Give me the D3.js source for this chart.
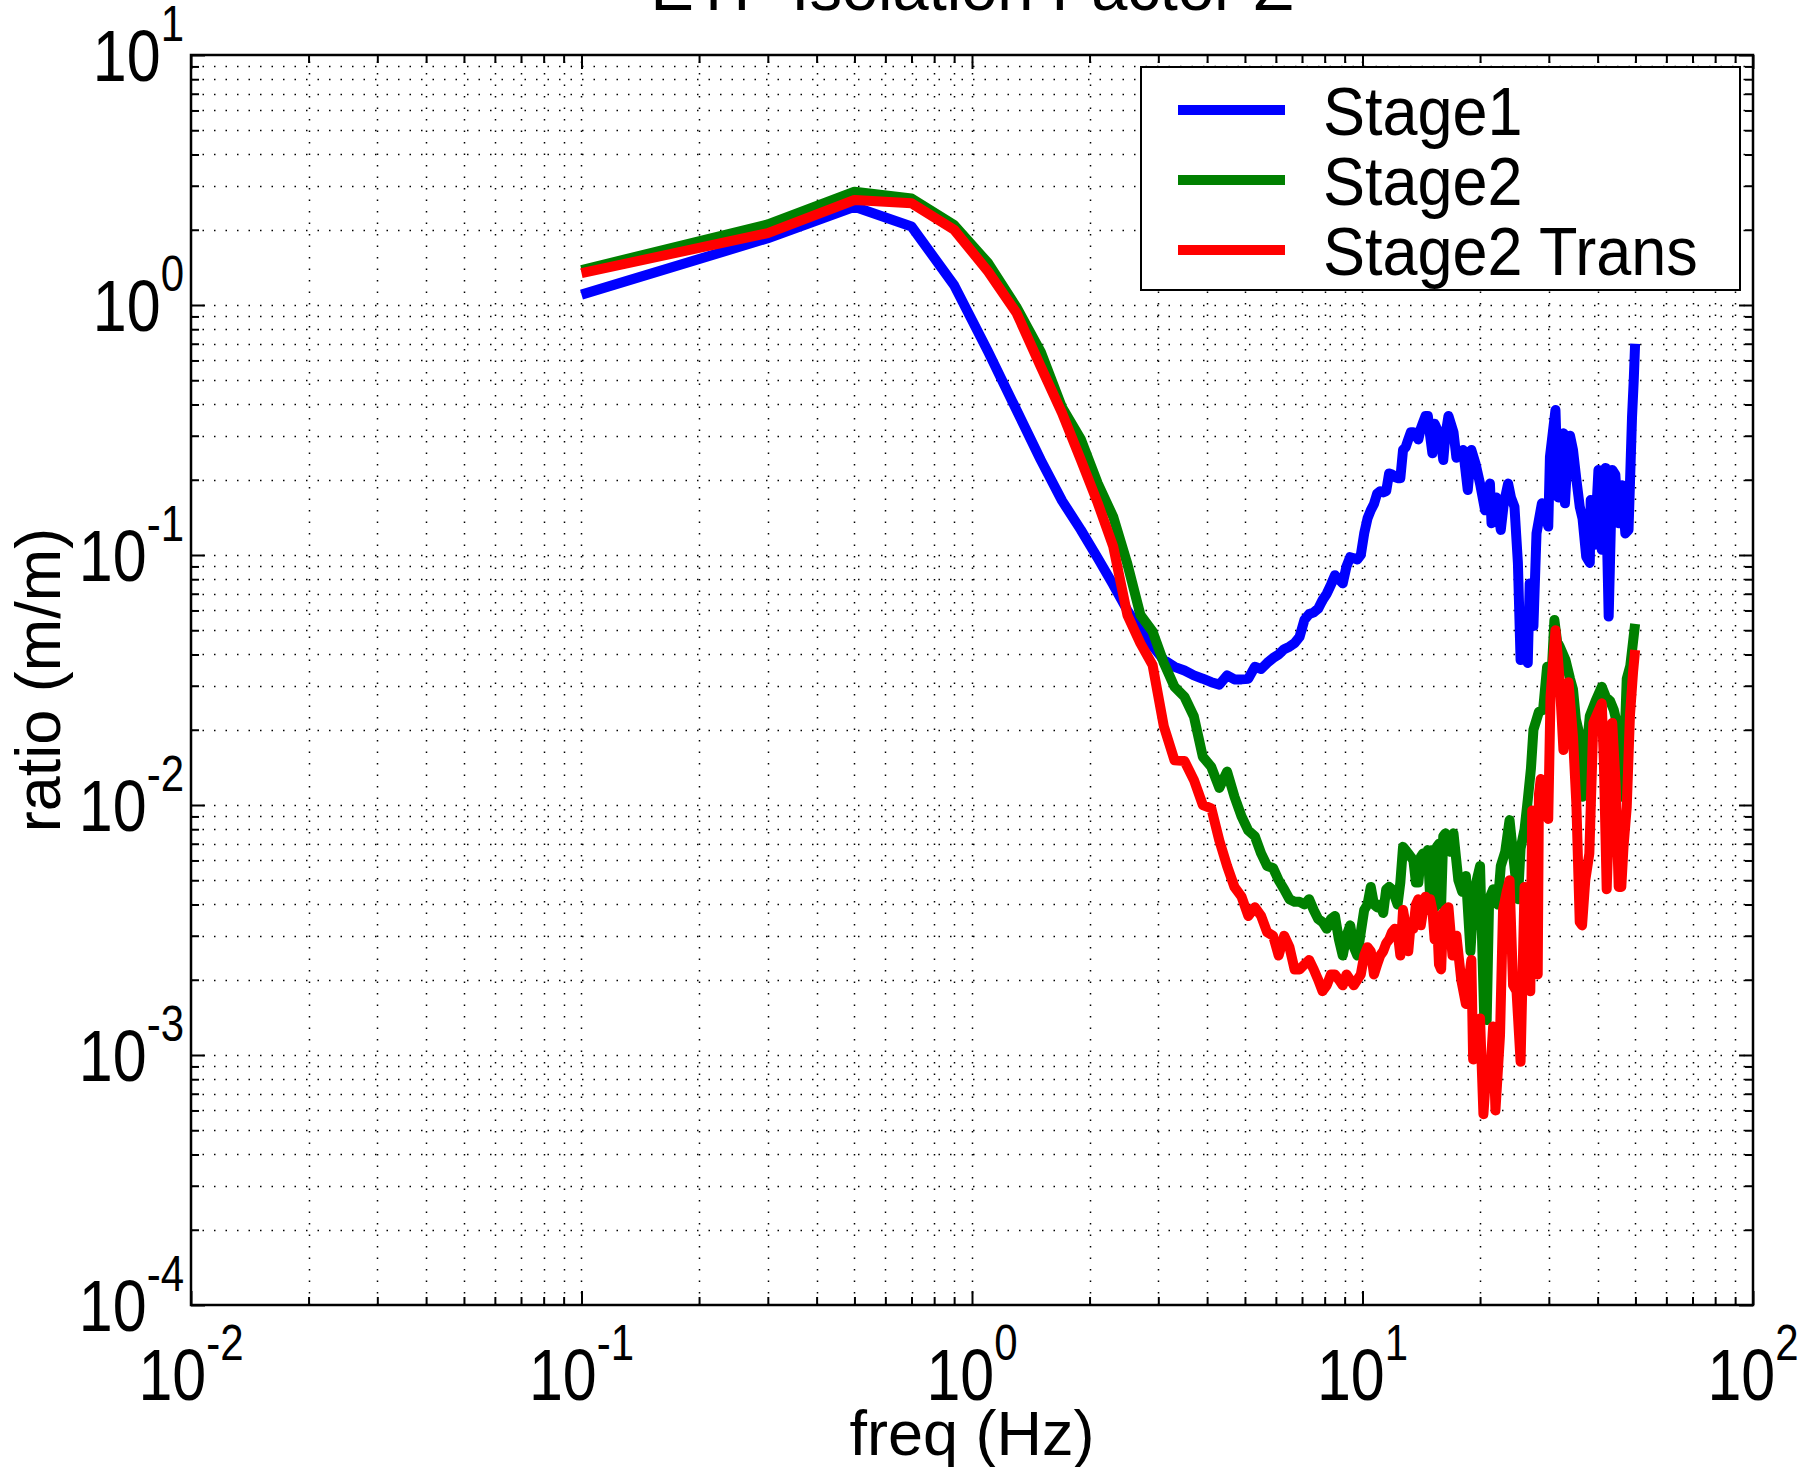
<!DOCTYPE html>
<html>
<head>
<meta charset="utf-8">
<script src="https://cdn.jsdelivr.net/npm/d3@7"></script>
<style>
  html, body { margin: 0; padding: 0; background: #ffffff; }
  svg { display: block; }
  text { font-family: "Liberation Sans", Arial, Helvetica, sans-serif; fill: #000; }
</style>
</head>
<body>
<svg id="chart" width="1820" height="1467"></svg>
<script>
// ---------------- data (freq Hz, ratio m/m) ----------------
const stage1 = [
  [0.1,1.10],[0.3,1.85],[0.5,2.47],[0.7,2.06],[0.9,1.20],[1.1,0.65],[1.3,0.38],[1.5,0.240],[1.7,0.165],[1.9,0.126],
  [2.1,0.097],[2.3,0.076],[2.5,0.060],[2.7,0.050],[2.9,0.0433],[3.1,0.038],[3.3,0.0357],[3.5,0.0345],[3.7,0.033],[3.9,0.032],
  [4.1,0.031],[4.3,0.0303],[4.5,0.033],[4.7,0.0318],[4.9,0.0318],[5.1,0.032],[5.3,0.0357],[5.5,0.035],[5.7,0.037],[5.9,0.0387],
  [6.1,0.040],[6.3,0.042],[6.5,0.043],[6.7,0.0444],[6.9,0.047],[7.1,0.055],[7.3,0.058],[7.5,0.059],[7.7,0.061],[7.9,0.066],
  [8.1,0.070],[8.3,0.076],[8.5,0.083],[8.7,0.080],[8.9,0.077],[9.1,0.090],[9.3,0.098],[9.5,0.097],[9.7,0.096],[9.9,0.100],
  [10.1,0.122],[10.3,0.14],[10.5,0.151],[10.7,0.16],[10.9,0.176],[11.1,0.18],[11.3,0.178],[11.5,0.18],[11.7,0.212],[11.9,0.21],
  [12.1,0.205],[12.3,0.203],[12.5,0.203],[12.7,0.263],[12.9,0.27],[13.1,0.29],[13.3,0.31],[13.5,0.31],[13.7,0.30],[13.9,0.29],
  [14.1,0.32],[14.3,0.34],[14.5,0.36],[14.7,0.36],[14.9,0.30],[15.1,0.255],[15.3,0.335],[15.5,0.32],[15.7,0.31],[15.9,0.28],
  [16.1,0.24],[16.3,0.30],[16.6,0.36],[17.1,0.31],[17.4,0.245],[17.8,0.255],[18.1,0.263],[18.6,0.182],[19.0,0.263],[19.5,0.23],
  [20.0,0.193],[20.6,0.151],[21.2,0.193],[21.4,0.134],[22.0,0.17],[22.6,0.126],[23.0,0.16],[23.6,0.193],[24.0,0.17],[24.5,0.156],
  [25.0,0.093],[25.4,0.038],[26.0,0.045],[26.5,0.037],[26.8,0.077],[27.4,0.052],[27.9,0.122],[28.8,0.161],[29.3,0.15],[29.9,0.13],
  [30.2,0.247],[31.2,0.38],[31.7,0.17],[32.2,0.28],[32.7,0.307],[33.0,0.161],[33.5,0.25],[34.0,0.30],[34.6,0.263],[35.3,0.20],
  [36.0,0.156],[36.6,0.14],[37.4,0.0985],[38.2,0.093],[38.4,0.166],[39.3,0.11],[40.2,0.219],[41.0,0.105],[41.9,0.223],[42.7,0.0567],
  [43.6,0.219],[44.4,0.21],[45.3,0.134],[46.2,0.19],[47.1,0.122],[48.0,0.126],[49.0,0.356],[49.5,0.50],[49.9,0.70]
];

const stage2 = [
  [0.1,1.38],[0.3,2.10],[0.5,2.84],[0.7,2.67],[0.9,2.09],[1.1,1.47],[1.3,0.98],[1.5,0.65],[1.7,0.39],[1.9,0.29],
  [2.1,0.193],[2.3,0.142],[2.5,0.092],[2.7,0.0575],[2.9,0.0494],[3.1,0.037],[3.3,0.0297],[3.5,0.0271],[3.7,0.0226],[3.9,0.0156],
  [4.1,0.0142],[4.3,0.0117],[4.5,0.0136],[4.7,0.0108],[4.9,0.0090],[5.1,0.0079],[5.3,0.0075],[5.5,0.0064],[5.7,0.0057],[5.9,0.0056],
  [6.1,0.0050],[6.3,0.0046],[6.5,0.0042],[6.7,0.0041],[6.9,0.0041],[7.1,0.0040],[7.3,0.0042],[7.5,0.0038],[7.7,0.0035],[7.9,0.0034],
  [8.1,0.0032],[8.3,0.0035],[8.5,0.0036],[8.7,0.0029],[8.9,0.0025],[9.1,0.0030],[9.3,0.0033],[9.5,0.0027],[9.7,0.0025],[9.9,0.0031],
  [10.1,0.0038],[10.3,0.0040],[10.5,0.0047],[10.7,0.0040],[10.9,0.0039],[11.1,0.0040],[11.3,0.0037],[11.5,0.0046],[11.7,0.0047],[11.9,0.0046],
  [12.1,0.0043],[12.3,0.0040],[12.5,0.0049],[12.7,0.0068],[12.9,0.0066],[13.1,0.0064],[13.3,0.0062],[13.5,0.0060],[13.7,0.0049],[13.9,0.0049],
  [14.1,0.0062],[14.3,0.0064],[14.5,0.0057],[14.7,0.0066],[14.9,0.0043],[15.1,0.0066],[15.3,0.0039],[15.5,0.0068],[15.7,0.0070],[15.9,0.0040],
  [16.1,0.0075],[16.3,0.0077],[16.8,0.0065],[17.1,0.0077],[17.6,0.0050],[18.0,0.0045],[18.4,0.0052],[18.9,0.0026],[19.3,0.0045],[20.0,0.0057],
  [20.5,0.0014],[20.8,0.00138],[21.1,0.0042],[21.6,0.0046],[22.2,0.0040],[22.6,0.0057],[23.2,0.0065],[23.8,0.0087],[24.4,0.0060],[25.0,0.0042],
  [25.4,0.0067],[26.0,0.0080],[26.5,0.0105],[27.0,0.0140],[27.4,0.020],[28.3,0.0236],[29.0,0.024],[29.7,0.0357],[30.4,0.030],[31.0,0.055],
  [31.5,0.045],[32.0,0.043],[33.1,0.038],[34.0,0.032],[34.6,0.029],[35.2,0.022],[35.7,0.020],[36.6,0.0108],[37.4,0.016],[38.2,0.0227],
  [39.5,0.026],[41.0,0.0297],[42.0,0.027],[43.1,0.026],[44.0,0.024],[44.9,0.021],[45.6,0.014],[46.2,0.0108],[47.0,0.020],[47.5,0.032],
  [48.5,0.036],[49.3,0.045],[49.9,0.053]
];

const stage2Trans = [
  [0.1,1.34],[0.3,1.94],[0.5,2.63],[0.7,2.55],[0.9,2.00],[1.1,1.36],[1.3,0.93],[1.5,0.567],[1.7,0.37],[1.9,0.24],
  [2.1,0.161],[2.3,0.108],[2.5,0.0575],[2.7,0.0443],[2.9,0.0363],[3.1,0.0206],[3.3,0.0151],[3.5,0.0150],[3.7,0.0126],[3.9,0.0100],
  [4.1,0.0097],[4.3,0.0072],[4.5,0.0057],[4.7,0.0047],[4.9,0.0043],[5.1,0.0036],[5.3,0.0039],[5.5,0.0036],[5.7,0.0031],[5.9,0.0030],
  [6.1,0.0025],[6.3,0.0030],[6.5,0.0027],[6.7,0.0022],[6.9,0.0022],[7.1,0.0023],[7.3,0.0024],[7.5,0.0022],[7.7,0.0020],[7.9,0.0018],
  [8.1,0.0019],[8.3,0.0021],[8.5,0.0021],[8.7,0.0020],[8.9,0.0019],[9.1,0.0021],[9.3,0.0020],[9.5,0.0019],[9.7,0.0020],[9.9,0.0021],
  [10.1,0.0025],[10.3,0.0027],[10.5,0.0026],[10.7,0.0021],[10.9,0.0023],[11.1,0.0025],[11.3,0.0026],[11.5,0.0028],[11.7,0.0029],[11.9,0.0031],
  [12.1,0.0032],[12.3,0.0031],[12.5,0.0025],[12.7,0.0038],[12.9,0.0033],[13.1,0.0026],[13.3,0.0034],[13.5,0.0032],[13.7,0.0040],[13.9,0.0042],
  [14.1,0.0033],[14.3,0.0038],[14.5,0.0043],[14.7,0.0038],[14.9,0.0042],[15.1,0.0038],[15.3,0.0029],[15.5,0.0036],[15.7,0.0023],[15.9,0.0022],
  [16.1,0.0037],[16.3,0.0038],[16.6,0.0039],[17.0,0.0025],[17.4,0.0030],[17.9,0.0020],[18.4,0.0016],[19.0,0.0024],[19.2,0.00096],[19.6,0.0012],
  [20.0,0.0014],[20.4,0.00058],[20.8,0.0009],[21.2,0.0008],[21.6,0.0013],[21.9,0.0006],[22.5,0.0012],[22.9,0.0038],[23.4,0.0045],[23.8,0.0050],
  [24.3,0.0019],[24.8,0.0018],[25.4,0.00094],[26.0,0.0047],[26.5,0.0026],[26.9,0.0018],[27.2,0.0095],[27.6,0.0060],[27.9,0.0029],[28.1,0.0021],
  [28.3,0.0110],[28.6,0.0127],[29.2,0.0110],[29.9,0.0088],[30.3,0.0271],[31.2,0.050],[31.6,0.040],[32.0,0.031],[32.7,0.0166],[33.7,0.031],
  [34.6,0.0187],[35.3,0.010],[36.0,0.0034],[36.5,0.0033],[37.2,0.0050],[38.1,0.0064],[39.0,0.0213],[41.0,0.0255],[41.5,0.015],[42.2,0.0046],
  [43.6,0.0213],[44.5,0.012],[45.3,0.0047],[46.0,0.0047],[46.6,0.0068],[47.5,0.0098],[48.4,0.0227],[49.3,0.034],[49.9,0.0417]
];

const seriesNames  = ["Stage1", "Stage2", "Stage2 Trans"];
const seriesColors = ["#0000ff", "#008000", "#ff0000"];

const xMajorTicks    = [0.01, 0.1, 1, 10, 100];
const xTickExponents = ["-2", "-1", "0", "1", "2"];
const yMajorTicks    = [1e-4, 1e-3, 1e-2, 1e-1, 1, 10];
const yTickExponents = ["-4", "-3", "-2", "-1", "0", "1"];
const minorMultipliers = [2, 3, 4, 5, 6, 7, 8, 9];

const titleText  = "ETF Isolation Factor Z";
const xLabelText = "freq (Hz)";
const yLabelText = "ratio (m/m)";

// ---------------- layout ----------------
const plot = { left: 191, right: 1753, top: 55, bottom: 1305 };
const svg = d3.select("#chart");

const x = d3.scaleLog().domain([0.01, 100]).range([plot.left, plot.right]);
const y = d3.scaleLog().domain([1e-4, 10]).range([plot.bottom, plot.top]);

const xMinor = xMajorTicks.slice(0, -1).flatMap(d => minorMultipliers.map(m => m * d));
const yMinor = yMajorTicks.slice(0, -1).flatMap(d => minorMultipliers.map(m => m * d));

// ---------------- grid ----------------
const grid = svg.append("g").attr("class", "grid")
  .attr("stroke", "#000").attr("stroke-width", 1.5)
  .attr("stroke-dasharray", "1.5 10").attr("fill", "none");

grid.selectAll("line.gx").data(xMinor.concat(xMajorTicks.slice(1, -1))).join("line")
  .attr("class", "gx")
  .attr("x1", d => Math.round(x(d)) + 0.5).attr("x2", d => Math.round(x(d)) + 0.5)
  .attr("y1", plot.bottom).attr("y2", plot.top);

grid.selectAll("line.gy").data(yMinor.concat(yMajorTicks.slice(1, -1))).join("line")
  .attr("class", "gy")
  .attr("y1", d => Math.round(y(d)) + 0.5).attr("y2", d => Math.round(y(d)) + 0.5)
  .attr("x1", plot.left).attr("x2", plot.right);

// ---------------- data lines ----------------
svg.append("clipPath").attr("id", "plotclip").append("rect")
  .attr("x", plot.left).attr("y", plot.top)
  .attr("width", plot.right - plot.left).attr("height", plot.bottom - plot.top);

const line = d3.line().x(d => x(d[0])).y(d => y(d[1]));
const allSeries = [stage1, stage2, stage2Trans];

svg.append("g").attr("clip-path", "url(#plotclip)")
  .selectAll("path").data(allSeries).join("path")
  .attr("d", line)
  .attr("fill", "none")
  .attr("stroke", (d, i) => seriesColors[i])
  .attr("stroke-width", 10)
  .attr("stroke-linejoin", "round")
  .attr("stroke-linecap", "butt");

// ---------------- axes (inward ticks on all sides) ----------------
function styleAxis(g) {
  g.select(".domain").remove();
  g.selectAll(".tick line").attr("stroke", "#000").attr("stroke-width", 2);
  g.selectAll(".tick text").remove();
}
const majorLen = 14, minorLen = 8;

svg.append("g").attr("transform", `translate(0,${plot.bottom})`)
  .call(d3.axisBottom(x).tickValues(xMajorTicks).tickSize(-majorLen).tickFormat("")).call(styleAxis);
svg.append("g").attr("transform", `translate(0,${plot.bottom})`)
  .call(d3.axisBottom(x).tickValues(xMinor).tickSize(-minorLen).tickFormat("")).call(styleAxis);
svg.append("g").attr("transform", `translate(0,${plot.top})`)
  .call(d3.axisTop(x).tickValues(xMajorTicks).tickSize(-majorLen).tickFormat("")).call(styleAxis);
svg.append("g").attr("transform", `translate(0,${plot.top})`)
  .call(d3.axisTop(x).tickValues(xMinor).tickSize(-minorLen).tickFormat("")).call(styleAxis);

svg.append("g").attr("transform", `translate(${plot.left},0)`)
  .call(d3.axisLeft(y).tickValues(yMajorTicks).tickSize(-majorLen).tickFormat("")).call(styleAxis);
svg.append("g").attr("transform", `translate(${plot.left},0)`)
  .call(d3.axisLeft(y).tickValues(yMinor).tickSize(-minorLen).tickFormat("")).call(styleAxis);
svg.append("g").attr("transform", `translate(${plot.right},0)`)
  .call(d3.axisRight(y).tickValues(yMajorTicks).tickSize(-majorLen).tickFormat("")).call(styleAxis);
svg.append("g").attr("transform", `translate(${plot.right},0)`)
  .call(d3.axisRight(y).tickValues(yMinor).tickSize(-minorLen).tickFormat("")).call(styleAxis);

// box
svg.append("rect")
  .attr("x", plot.left).attr("y", plot.top)
  .attr("width", plot.right - plot.left).attr("height", plot.bottom - plot.top)
  .attr("fill", "none").attr("stroke", "#000").attr("stroke-width", 2.5);

// ---------------- tick labels (10^n), slightly tall glyphs ----------------
const tickFont = 61, expFont = 42, expRise = 34, tallY = 1.18;

const xLab = svg.append("g").selectAll("text").data(xMajorTicks).join("text")
  .attr("transform", d => `translate(${x(d)},1400) scale(1,${tallY})`)
  .attr("text-anchor", "middle").attr("font-size", tickFont);
xLab.append("tspan").text("10");
xLab.append("tspan").attr("dy", -expRise).attr("font-size", expFont)
  .text((d, i) => xTickExponents[i]);

const yLab = svg.append("g").selectAll("text").data(yMajorTicks).join("text")
  .attr("transform", d => `translate(184,${y(d) + 0.358 * tickFont * tallY}) scale(1,${tallY})`)
  .attr("text-anchor", "end").attr("font-size", tickFont);
yLab.append("tspan").text("10");
yLab.append("tspan").attr("dy", -expRise).attr("font-size", expFont)
  .text((d, i) => yTickExponents[i]);

// ---------------- axis labels and title ----------------
svg.append("text").attr("x", (plot.left + plot.right) / 2).attr("y", 1455)
  .attr("text-anchor", "middle").attr("font-size", 63).text(xLabelText);

svg.append("text")
  .attr("transform", `translate(60,${(plot.top + plot.bottom) / 2}) rotate(-90)`)
  .attr("text-anchor", "middle").attr("font-size", 63).text(yLabelText);

svg.append("text").attr("x", (plot.left + plot.right) / 2).attr("y", 10)
  .attr("text-anchor", "middle").attr("font-size", 65).text(titleText);

// ---------------- legend ----------------
const legendFont = 63, legendTall = 1.1;
const legend = svg.append("g");
legend.append("rect").attr("x", 1141).attr("y", 67).attr("width", 599).attr("height", 223)
  .attr("fill", "#fff").attr("stroke", "#000").attr("stroke-width", 2);
const rows = legend.selectAll("g.row").data(seriesNames).join("g").attr("class", "row")
  .attr("transform", (d, i) => `translate(0,${110 + i * 70})`);
rows.append("line").attr("x1", 1178).attr("x2", 1285).attr("y1", 0).attr("y2", 0)
  .attr("stroke", (d, i) => seriesColors[i]).attr("stroke-width", 10);
rows.append("text")
  .attr("transform", `translate(1323,${0.358 * legendFont * legendTall}) scale(1,${legendTall})`)
  .attr("font-size", legendFont).text(d => d);
</script>
</body>
</html>
